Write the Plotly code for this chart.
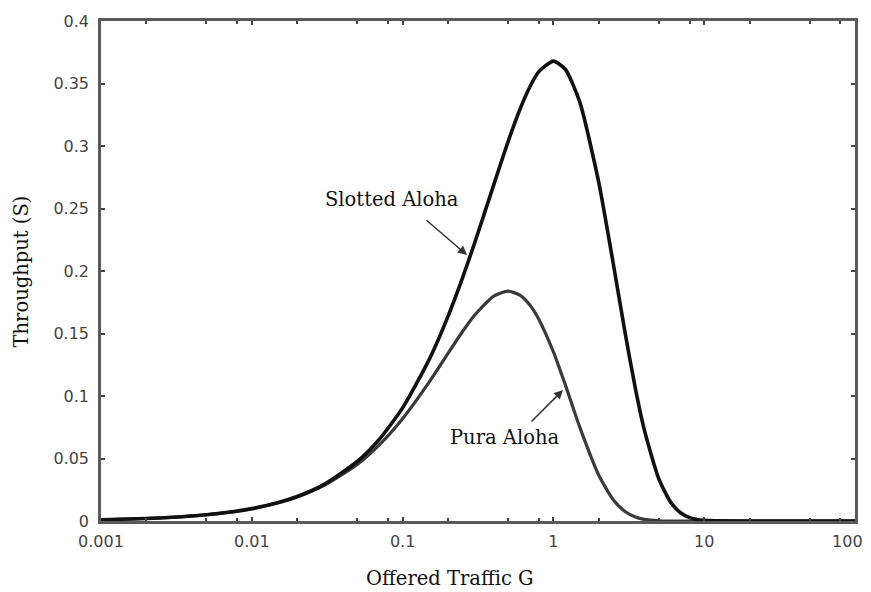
import plotly.graph_objects as go

# Offered traffic G (read along the log x axis)
G = [0.001, 0.002, 0.003, 0.005, 0.007, 0.01, 0.015, 0.02, 0.03, 0.05, 0.07,
     0.1, 0.15, 0.2, 0.25, 0.3, 0.4, 0.5, 0.6, 0.7, 0.8, 1.0, 1.2, 1.5, 2.0,
     2.5, 3.0, 3.5, 4.0, 5.0, 6.0, 7.0, 8.0, 10.0, 20.0, 50.0, 100.0]

# Throughput
slotted = [0.0010, 0.0020, 0.0030, 0.0050, 0.0070, 0.0099, 0.0148, 0.0196, 0.0291,
           0.0476, 0.0653, 0.0905, 0.1291, 0.1637, 0.1947, 0.2222, 0.2681, 0.3033,
           0.3293, 0.3476, 0.3595, 0.3679, 0.3614, 0.3347, 0.2707, 0.2052, 0.1494,
           0.1057, 0.0733, 0.0337, 0.0149, 0.0064, 0.0027, 0.0005, 0.0, 0.0, 0.0]
pure = [0.0010, 0.0020, 0.0030, 0.0050, 0.0069, 0.0098, 0.0146, 0.0192, 0.0283,
        0.0452, 0.0609, 0.0819, 0.1111, 0.1341, 0.1516, 0.1646, 0.1797, 0.1839,
        0.1807, 0.1726, 0.1615, 0.1353, 0.1089, 0.0747, 0.0366, 0.0168, 0.0074,
        0.0032, 0.0013, 0.0002, 0.0, 0.0, 0.0, 0.0, 0.0, 0.0, 0.0]

x_ticks = [0.001, 0.01, 0.1, 1, 10, 100]
x_labels = ["0.001", "0.01", "0.1", "1", "10", "100\u00a0\u00a0\u00a0"]
y_ticks = [0, 0.05, 0.1, 0.15, 0.2, 0.25, 0.3, 0.35, 0.4]
y_labels = ["0", "0.05", "0.1", "0.15", "0.2", "0.25", "0.3", "0.35", "0.4"]
minor_x = [m * d for d in [0.001, 0.01, 0.1, 1, 10] for m in (2, 5, 8)]

sans = "DejaVu Sans, Verdana, sans-serif"
slab = "DejaVu Serif, serif"

fig = go.Figure()
fig.add_trace(go.Scatter(x=G, y=pure, mode="lines", name="Pura Aloha",
                         line=dict(color="#3a3a3a", width=3.2, shape="spline", smoothing=0.6)))
fig.add_trace(go.Scatter(x=G, y=slotted, mode="lines", name="Slotted Aloha",
                         line=dict(color="#111111", width=3.6, shape="spline", smoothing=0.6)))

axis_common = dict(showgrid=False, zeroline=False, showline=True, linecolor="#5a5a5a",
                   linewidth=2.5, mirror="ticks", ticks="inside", ticklen=4,
                   tickcolor="#444444", tickwidth=1.5, automargin=False,
                   ticklabeloverflow="allow",
                   tickfont=dict(family=sans, size=16, color="#444"))

fig.update_xaxes(type="log", range=[-3, 2], tickvals=x_ticks, ticktext=x_labels,
                 ticklabelstandoff=4,
                 minor=dict(tickvals=minor_x, ticks="inside", ticklen=3,
                            tickcolor="#444444", tickwidth=1.5),
                 **axis_common)
fig.update_yaxes(range=[0, 0.4], tickvals=y_ticks, ticktext=y_labels,
                 ticklabelstandoff=6,
                 **axis_common)

# axis titles
fig.add_annotation(x=0.4629, y=-0.114, xref="paper", yref="paper", showarrow=False,
                   xanchor="center", yanchor="middle",
                   text="Offered Traffic G", font=dict(family=slab, size=19.5, color="#111"))
fig.add_annotation(x=-0.1061, y=0.499, xref="paper", yref="paper", showarrow=False,
                   xanchor="center", yanchor="middle", textangle=-90,
                   text="Throughput (S)", font=dict(family=slab, size=19.5, color="#111"))

# arrows and labels
fig.add_annotation(x=-0.573, y=0.2128, xref="x", yref="y", ax=-42, ay=-36,
                   showarrow=True, arrowhead=2, arrowsize=1.2, arrowwidth=1.5,
                   arrowcolor="#333", text="")
fig.add_annotation(x=0.0637, y=0.1048, xref="x", yref="y", ax=-33, ay=33,
                   showarrow=True, arrowhead=2, arrowsize=1.2, arrowwidth=1.5,
                   arrowcolor="#333", text="")
fig.add_annotation(x=-1.07, y=0.2576, xref="x", yref="y", showarrow=False,
                   text="Slotted Aloha", font=dict(family=slab, size=19.5, color="#111"))
fig.add_annotation(x=-0.321, y=0.0672, xref="x", yref="y", showarrow=False,
                   text="Pura Aloha", font=dict(family=slab, size=19.5, color="#111"))

fig.update_layout(width=863, height=584, margin=dict(l=93, r=16, t=13, b=71),
                  paper_bgcolor="white", plot_bgcolor="white", showlegend=False)

fig.write_html("out.html")
